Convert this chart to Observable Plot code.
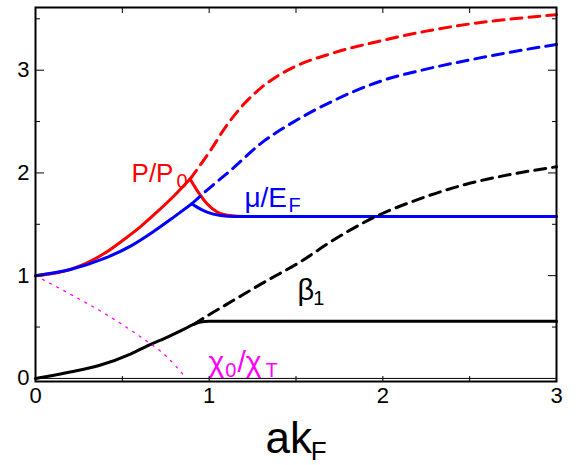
<!DOCTYPE html>
<html>
<head>
<meta charset="utf-8">
<script src="https://cdn.jsdelivr.net/npm/d3@7"></script>
<script src="https://cdn.jsdelivr.net/npm/@observablehq/plot@0.6"></script>
<style>
  html, body { margin: 0; padding: 0; background: #fff; }
  svg { display: block; }
</style>
</head>
<body>
<div id="chart"></div>
<script>
// ---------- data ----------
// P/P0 : stable (solid) branch, rising then falling, and the dashed continuation
const ppRiseX = [0, 0.2, 0.4, 0.5, 0.6, 0.7, 0.8, 0.89];
const ppRiseY = [1, 1.06, 1.22, 1.34, 1.47, 1.62, 1.78, 1.94];
const ppFallX = [0.89, 0.93, 0.988, 1.046, 1.12, 1.2, 3];
const ppFallY = [1.94, 1.83, 1.70, 1.62, 1.585, 1.576, 1.576];
const ppDashX = [0.89, 1.0, 1.1, 1.2, 1.3, 1.4, 1.5, 1.7, 2.0, 2.25, 2.5, 2.75, 3];
const ppDashY = [1.94, 2.2, 2.46, 2.67, 2.83, 2.95, 3.04, 3.16, 3.29, 3.38, 3.45, 3.50, 3.54];

// mu/E_F
const muRiseX = [0, 0.2, 0.4, 0.55, 0.68, 0.8, 0.9];
const muRiseY = [1, 1.06, 1.17, 1.29, 1.43, 1.575, 1.70];
const muFallX = [0.9, 0.93, 0.988, 1.065, 1.15, 3];
const muFallY = [1.70, 1.667, 1.618, 1.586, 1.576, 1.576];
const muDashX = [0.9, 1.0, 1.12, 1.3, 1.5, 1.7, 2.0, 2.25, 2.5, 2.75, 3];
const muDashY = [1.70, 1.85, 2.02, 2.29, 2.51, 2.69, 2.90, 3.01, 3.10, 3.18, 3.25];

// beta_1
const betaX = [0, 0.1, 0.2, 0.37, 0.55, 0.66, 0.75, 0.85, 0.91, 0.95, 1.0, 1.1, 3];
const betaY = [0, 0.028, 0.062, 0.128, 0.24, 0.33, 0.395, 0.475, 0.525, 0.548, 0.557, 0.557, 0.557];
const betaDashX = [0.91, 1.0, 1.14, 1.31, 1.53, 1.7, 1.94, 2.2, 2.48, 2.75, 3];
const betaDashY = [0.525, 0.62, 0.76, 0.93, 1.14, 1.33, 1.56, 1.74, 1.89, 1.99, 2.06];

// chi_0 / chi_T
const chiX = [0, 0.2, 0.4, 0.6, 0.75, 0.87];
const chiY = [1, 0.82, 0.63, 0.41, 0.22, 0.0];

// axis ticks
const xTickLabels = [0, 1, 2, 3];
const yTickLabels = [0, 1, 2, 3];
const xInnerTicks = [0.5, 1, 1.5, 2, 2.5];
const yMajorTicks = [1, 2, 3];
const yHalfTicks = [0.5, 1.5, 2.5, 3.5];

// curve labels (main text + subscript)
const labelText = ["P/P", "\u03bc/E", "\u03b2", "\u03c7", "/\u03c7"];
const labelX = [0.553, 1.203, 1.508, 0.996, 1.163];
const labelY = [1.91, 1.665, 0.764, 0.058, 0.058];
const labelSize = [26, 28, 29, 30, 30];
const subText = ["0", "F", "1", "0", "T"];
const subX = [0.812, 1.457, 1.6, 1.092, 1.325];
const subY = [1.858, 1.615, 0.71, 0.01, 0.01];
const labelColors = ["#ff0000", "#0000ff", "#000000", "#ff00ff", "#ff00ff"];

// x-axis title
const xTitle = ["ak", "F"];
const xTitleX = [1.324, 1.585];
const xTitleY = [-0.73, -0.79];

// ---------- build ----------
const pts = (xs, ys, seg = 0) => xs.map((x, i) => ({x, y: ys[i], seg}));
const font = "'Liberation Sans', Arial, Helvetica, sans-serif";

const RED = "#ff0000", BLUE = "#0000ff", BLACK = "#000000", MAG = "#ff00ff";
const LW = 3, DASH = "11,7";

const ppSolid = [...pts(ppRiseX, ppRiseY, 0), ...pts(ppFallX, ppFallY, 1)];
const muSolid = [...pts(muRiseX, muRiseY, 0), ...pts(muFallX, muFallY, 1)];

const textMarks = [];
labelText.forEach((t, i) => {
  textMarks.push(Plot.text([{x: labelX[i], y: labelY[i], t}], {
    x: "x", y: "y", text: "t", fill: labelColors[i], textAnchor: "start",
    lineAnchor: "bottom", fontSize: labelSize[i]
  }));
  textMarks.push(Plot.text([{x: subX[i], y: subY[i], t: subText[i]}], {
    x: "x", y: "y", text: "t", fill: labelColors[i], textAnchor: "start",
    lineAnchor: "bottom", fontSize: 20
  }));
});

const xTitleMarks = [
  Plot.text([{x: xTitleX[0], y: xTitleY[0], t: xTitle[0]}], {x: "x", y: "y", text: "t", fill: BLACK, textAnchor: "start", lineAnchor: "bottom", fontSize: 44}),
  Plot.text([{x: xTitleX[1], y: xTitleY[1], t: xTitle[1]}], {x: "x", y: "y", text: "t", fill: BLACK, textAnchor: "start", lineAnchor: "bottom", fontSize: 26})
];

const noText = () => "";

const chart = Plot.plot({
  width: 581,
  height: 465,
  marginLeft: 35,
  marginRight: 25,
  marginTop: 7,
  marginBottom: 84,
  style: {fontFamily: font, background: "#ffffff", color: "#000", overflow: "visible"},
  x: {domain: [0, 3]},
  y: {domain: [-0.03, 3.61]},
  marks: [
    Plot.ruleY([0], {stroke: BLACK, strokeWidth: 1}),
    Plot.line(pts(betaX, betaY), {x: "x", y: "y", stroke: BLACK, strokeWidth: LW, curve: "monotone-x"}),
    Plot.line(pts(chiX, chiY), {x: "x", y: "y", stroke: MAG, strokeWidth: 1.3, strokeDasharray: "2,6", curve: "monotone-x"}),
    Plot.line(ppSolid, {x: "x", y: "y", z: "seg", stroke: RED, strokeWidth: LW, curve: "monotone-x"}),
    Plot.line(muSolid, {x: "x", y: "y", z: "seg", stroke: BLUE, strokeWidth: LW, curve: "monotone-x"}),
    Plot.line(pts(ppDashX, ppDashY), {x: "x", y: "y", stroke: RED, strokeWidth: LW, strokeDasharray: DASH, curve: "monotone-x"}),
    Plot.line(pts(muDashX, muDashY), {x: "x", y: "y", stroke: BLUE, strokeWidth: LW, strokeDasharray: DASH, curve: "monotone-x"}),
    Plot.line(pts(betaDashX, betaDashY), {x: "x", y: "y", stroke: BLACK, strokeWidth: LW, strokeDasharray: DASH, curve: "monotone-x"}),
    ...textMarks,
    ...xTitleMarks,
    Plot.frame({stroke: BLACK, strokeWidth: 2}),
    Plot.axisX({anchor: "bottom", ticks: xTickLabels, tickSize: 0, tickPadding: 6, fontSize: 22, label: null, tickFormat: d => String(d)}),
    Plot.axisX({anchor: "bottom", ticks: xInnerTicks, tickSize: -5, tickFormat: noText, label: null}),
    Plot.axisX({anchor: "top", ticks: xInnerTicks, tickSize: -5, tickFormat: noText, label: null}),
    Plot.axisY({anchor: "left", ticks: yTickLabels, tickSize: 0, tickPadding: 6, fontSize: 22, label: null, tickFormat: d => String(d)}),
    Plot.axisY({anchor: "left", ticks: yMajorTicks, tickSize: -9, tickFormat: noText, label: null}),
    Plot.axisY({anchor: "left", ticks: yHalfTicks, tickSize: -5, tickFormat: noText, label: null}),
    Plot.axisY({anchor: "right", ticks: yMajorTicks, tickSize: -9, tickFormat: noText, label: null}),
    Plot.axisY({anchor: "right", ticks: yHalfTicks, tickSize: -5, tickFormat: noText, label: null})
  ]
});

document.getElementById("chart").appendChild(chart);
</script>
</body>
</html>
